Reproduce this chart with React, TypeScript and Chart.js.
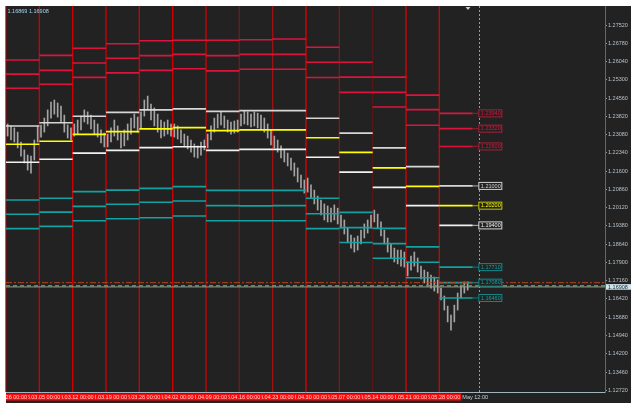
import { useEffect, useRef } from 'react';
import { Chart, registerables } from 'chart.js';
Chart.register(...registerables);

// ---- time structure (x in 4H-bar units, 10 per week column) ----
const weekStarts = [0, 10, 20, 30, 40, 50, 60, 70, 80, 90, 100, 110, 120, 130];
const currentWeekEnd = 140;
const nowMarker = 142;
const shiftMarker = 138.6;
const weekLineColors = ['#7a1212', '#d40000', '#d40000', '#d40000', '#d40000', '#d40000', '#d40000',
  '#7a1717', '#a01212', '#e00000', '#7a1b1b', '#5a1616', '#e00000', '#d80000'];
const dateLabels = ['2018.02.26 00:00', '2018.03.05 00:00', '2018.03.12 00:00', '2018.03.19 00:00',
  '2018.03.26 00:00', '2018.04.02 00:00', '2018.04.09 00:00', '2018.04.16 00:00', '2018.04.23 00:00',
  '2018.04.30 00:00', '2018.05.07 00:00', '2018.05.14 00:00', '2018.05.21 00:00', '2018.05.28 00:00'];
const axisTimeTail = 'May 12:00';

// ---- weekly levels ----
const r3 = [1.2610, 1.2629, 1.2658, 1.2676, 1.2688, 1.2690, 1.2690, 1.2692, 1.2695, 1.2662, 1.2601, 1.2541, 1.2468, 1.2394];
const r2 = [1.2553, 1.2568, 1.2598, 1.2617, 1.2628, 1.2633, 1.2628, 1.2633, 1.2633, 1.2601, 1.2541, 1.2479, 1.2409, 1.2332];
const r1 = [1.2496, 1.2512, 1.2540, 1.2558, 1.2568, 1.2575, 1.2566, 1.2573, 1.2573, 1.2539, 1.2479, 1.2420, 1.2346, 1.2260];
const upperW = [1.2343, 1.2356, 1.2382, 1.2398, 1.2408, 1.2412, 1.2402, 1.2405, 1.2405, 1.2374, 1.2314, 1.2254, 1.2178, 1.2100];
const pivot = [1.2269, 1.2281, 1.2309, 1.2320, 1.2331, 1.2336, 1.2324, 1.2327, 1.2327, 1.2295, 1.2236, 1.2173, 1.2098, 1.2020];
const lowerW = [1.2196, 1.2208, 1.2233, 1.2244, 1.2255, 1.2259, 1.2244, 1.2248, 1.2248, 1.2216, 1.2156, 1.2094, 1.2020, 1.1940];
const s1 = [1.2043, 1.2050, 1.2077, 1.2083, 1.2090, 1.2097, 1.2082, 1.2082, 1.2082, 1.2050, 1.1993, 1.1928, 1.1853, 1.1771];
const s2 = [1.1985, 1.1994, 1.2017, 1.2026, 1.2034, 1.2039, 1.2020, 1.2019, 1.2020, 1.1987, 1.1931, 1.1866, 1.1791, 1.1708];
const s3 = [1.1927, 1.1936, 1.1959, 1.1967, 1.1971, 1.1978, 1.1959, 1.1959, 1.1959, 1.1927, 1.1871, 1.1807, 1.1728, 1.1646];

// ---- price bars (high / low) ----
const priceHigh = [
  1.2351, 1.2343, 1.2335, 1.2318, 1.2278, 1.2246, 1.2225, 1.2221, 1.2286, 1.2343,
  1.2347, 1.2375, 1.2408, 1.2440, 1.2448, 1.2436, 1.2424, 1.2387, 1.2347, 1.2335,
  1.2351, 1.2367, 1.2383, 1.2408, 1.2400, 1.2387, 1.2367, 1.2351, 1.2327, 1.2314,
  1.2310, 1.2335, 1.2367, 1.2343, 1.2314, 1.2327, 1.2351, 1.2375, 1.2391, 1.2379,
  1.2400, 1.2448, 1.2464, 1.2432, 1.2416, 1.2391, 1.2367, 1.2359, 1.2367, 1.2351,
  1.2351, 1.2343, 1.2327, 1.2310, 1.2302, 1.2286, 1.2270, 1.2262, 1.2278, 1.2286,
  1.2310, 1.2343, 1.2375, 1.2391, 1.2400, 1.2383, 1.2367, 1.2359, 1.2363, 1.2367,
  1.2391, 1.2404, 1.2400, 1.2391, 1.2400, 1.2395, 1.2387, 1.2375, 1.2351, 1.2327,
  1.2302, 1.2286, 1.2262, 1.2246, 1.2233, 1.2213, 1.2193, 1.2173, 1.2144, 1.2124,
  1.2132, 1.2104, 1.2083, 1.2059, 1.2043, 1.2027, 1.2019, 1.2010, 1.2023, 1.2010,
  1.1982, 1.1962, 1.1929, 1.1901, 1.1889, 1.1897, 1.1921, 1.1946, 1.1962, 1.1982,
  1.2002, 1.1986, 1.1954, 1.1921, 1.1889, 1.1865, 1.1848, 1.1840, 1.1840, 1.1832,
  1.1792, 1.1816, 1.1832, 1.1808, 1.1775, 1.1759, 1.1751, 1.1739, 1.1731, 1.1719,
  1.1686, 1.1654, 1.1613, 1.1577, 1.1617, 1.1666, 1.1698, 1.1711, 1.1711,
];
const priceLow = [
  1.2302, 1.2286, 1.2278, 1.2254, 1.2221, 1.2193, 1.2164, 1.2152, 1.2205, 1.2278,
  1.2298, 1.2318, 1.2343, 1.2375, 1.2391, 1.2379, 1.2359, 1.2318, 1.2294, 1.2286,
  1.2302, 1.2310, 1.2327, 1.2359, 1.2351, 1.2331, 1.2310, 1.2298, 1.2274, 1.2258,
  1.2258, 1.2278, 1.2302, 1.2286, 1.2254, 1.2262, 1.2286, 1.2310, 1.2335, 1.2318,
  1.2335, 1.2383, 1.2408, 1.2367, 1.2343, 1.2318, 1.2294, 1.2302, 1.2310, 1.2302,
  1.2298, 1.2290, 1.2274, 1.2258, 1.2250, 1.2237, 1.2217, 1.2213, 1.2225, 1.2246,
  1.2254, 1.2286, 1.2318, 1.2335, 1.2347, 1.2335, 1.2318, 1.2310, 1.2314, 1.2318,
  1.2343, 1.2351, 1.2347, 1.2339, 1.2343, 1.2335, 1.2331, 1.2318, 1.2294, 1.2266,
  1.2254, 1.2237, 1.2213, 1.2197, 1.2181, 1.2164, 1.2140, 1.2116, 1.2092, 1.2071,
  1.2075, 1.2051, 1.2027, 1.2002, 1.1982, 1.1962, 1.1954, 1.1954, 1.1962, 1.1946,
  1.1929, 1.1905, 1.1873, 1.1848, 1.1832, 1.1840, 1.1865, 1.1889, 1.1909, 1.1929,
  1.1954, 1.1929, 1.1897, 1.1865, 1.1832, 1.1808, 1.1792, 1.1784, 1.1775, 1.1771,
  1.1735, 1.1759, 1.1775, 1.1751, 1.1723, 1.1707, 1.1694, 1.1686, 1.1674, 1.1666,
  1.1638, 1.1597, 1.1549, 1.1516, 1.1549, 1.1597, 1.1646, 1.1666, 1.1678,
];

// ---- price axis ----
const yTicks = [1.1272, 1.1346, 1.1420, 1.1494, 1.1568, 1.1642, 1.1716, 1.1790, 1.1864, 1.1938, 1.2012,
  1.2086, 1.2160, 1.2234, 1.2308, 1.2382, 1.2456, 1.2530, 1.2604, 1.2678, 1.2752];
const yMin = 1.1265;
const yMax = 1.2829;
const bidPrice = 1.16869;
const lastPrice = 1.16908;
const greenDashLevel = 1.1696;
const redDashLevel = 1.1708;

const FONT = '"Liberation Sans", "DejaVu Sans", sans-serif';
const RED = '#dc143c';
const WHITE = '#f2f2f2';
const YELLOW = '#ffff00';
const TEAL = '#13a1a1';

const levelDefs = [
  { vals: r3, color: RED, box: '#a8203a' },
  { vals: r2, color: RED, box: '#a8203a' },
  { vals: r1, color: RED, box: '#a8203a' },
  { vals: upperW, color: '#d6d6d6', box: '#d0d0d0' },
  { vals: pivot, color: YELLOW, box: '#c8c800' },
  { vals: lowerW, color: WHITE, box: '#d8d8d8' },
  { vals: s1, color: TEAL, box: '#138888' },
  { vals: s2, color: TEAL, box: '#138888' },
  { vals: s3, color: TEAL, box: '#138888' },
];

function segments(vals: number[]) {
  const pts: { x: number; y: number | null }[] = [];
  vals.forEach((v, k) => {
    const s = weekStarts[k];
    const e = k < weekStarts.length - 1 ? weekStarts[k + 1] : currentWeekEnd;
    pts.push({ x: s, y: v }, { x: e, y: v }, { x: e, y: null });
  });
  return pts;
}

const decorPlugin = {
  id: 'mt4decor',
  beforeDraw(chart: any) {
    const { ctx } = chart;
    ctx.save();
    ctx.fillStyle = '#ffffff';
    ctx.fillRect(0, 0, chart.width, chart.height);
    ctx.fillStyle = '#222222';
    ctx.fillRect(6, 6, 625, 397);
    ctx.restore();
  },
  beforeDatasetsDraw(chart: any) {
    const { ctx, chartArea: a } = chart;
    const xs = chart.scales.x;
    ctx.save();
    ctx.lineWidth = 1.3;
    weekStarts.forEach((w, k) => {
      const x = xs.getPixelForValue(w);
      ctx.strokeStyle = weekLineColors[k];
      ctx.beginPath();
      ctx.moveTo(x, a.top);
      ctx.lineTo(x, a.bottom);
      ctx.stroke();
    });
    ctx.restore();
  },
  afterDatasetsDraw(chart: any) {
    const { ctx, chartArea: a } = chart;
    const xs = chart.scales.x;
    const ys = chart.scales.y;
    ctx.save();
    const hl = (v: number, color: string, dash: number[], w: number) => {
      const y = ys.getPixelForValue(v);
      ctx.strokeStyle = color;
      ctx.lineWidth = w;
      ctx.setLineDash(dash);
      ctx.beginPath();
      ctx.moveTo(a.left, y);
      ctx.lineTo(a.right, y);
      ctx.stroke();
    };
    hl(redDashLevel, '#b5431c', [6, 2, 2, 2], 1);
    hl(greenDashLevel, '#22b522', [4, 3], 1.5);
    hl(lastPrice, '#9a9a9a', [], 1);
    const xn = xs.getPixelForValue(nowMarker);
    ctx.strokeStyle = '#9a9a9a';
    ctx.lineWidth = 1;
    ctx.setLineDash([2, 2]);
    ctx.beginPath();
    ctx.moveTo(Math.round(xn) + 0.5, a.top);
    ctx.lineTo(Math.round(xn) + 0.5, a.bottom);
    ctx.stroke();
    ctx.setLineDash([]);
    const xe = xs.getPixelForValue(currentWeekEnd);
    ctx.font = `5.5px ${FONT}`;
    ctx.textBaseline = 'middle';
    ctx.textAlign = 'left';
    levelDefs.forEach((d) => {
      const v = d.vals[d.vals.length - 1];
      const y = ys.getPixelForValue(v);
      ctx.strokeStyle = d.box;
      ctx.globalAlpha = 0.7;
      ctx.lineWidth = 1.2;
      ctx.beginPath();
      ctx.moveTo(xe, y);
      ctx.lineTo(xn, y);
      ctx.stroke();
      ctx.globalAlpha = 1;
      ctx.fillStyle = '#222222';
      ctx.fillRect(xn - 0.5, y - 3.5, 23, 7);
      ctx.lineWidth = 1;
      ctx.strokeRect(xn - 0.5, y - 3.5, 23, 7);
      ctx.fillStyle = d.color;
      ctx.fillText(v.toFixed(5), xn + 1.5, y + 0.3);
    });
    const xt = xs.getPixelForValue(shiftMarker);
    ctx.fillStyle = '#d0d0d0';
    ctx.beginPath();
    ctx.moveTo(xt - 2.5, a.top + 1);
    ctx.lineTo(xt + 2.5, a.top + 1);
    ctx.lineTo(xt, a.top + 4);
    ctx.closePath();
    ctx.fill();
    ctx.restore();
  },
  afterDraw(chart: any) {
    const { ctx, chartArea: a } = chart;
    const xs = chart.scales.x;
    const ys = chart.scales.y;
    ctx.save();
    ctx.strokeStyle = '#9fb4bf';
    ctx.lineWidth = 1;
    ctx.beginPath();
    ctx.moveTo(a.left, a.bottom + 0.5);
    ctx.lineTo(a.right, a.bottom + 0.5);
    ctx.stroke();
    const top = a.bottom + 1.5;
    const h = 7;
    const lastX = xs.getPixelForValue(weekStarts[weekStarts.length - 1]);
    ctx.fillStyle = '#ff0a0a';
    ctx.fillRect(a.left, top, lastX + 22 - a.left, h);
    ctx.font = `5.5px ${FONT}`;
    ctx.textBaseline = 'middle';
    weekStarts.forEach((w, k) => {
      const L = xs.getPixelForValue(w);
      const x0 = Math.max(L - 11, a.left);
      ctx.save();
      ctx.beginPath();
      ctx.rect(x0, top, L + 22 - x0, h);
      ctx.clip();
      ctx.fillStyle = '#ffd6d6';
      ctx.textAlign = 'right';
      ctx.fillText(dateLabels[k], L + 21, top + h / 2 + 0.3);
      ctx.restore();
    });
    ctx.fillStyle = '#c8d2da';
    ctx.textAlign = 'left';
    ctx.fillText(axisTimeTail, lastX + 23, top + h / 2 + 0.3);
    ctx.fillStyle = '#a6d4ec';
    ctx.fillText(`${bidPrice.toFixed(5)} ${lastPrice.toFixed(5)}`, 7.5, 11);
    const yp = ys.getPixelForValue(lastPrice);
    ctx.fillStyle = '#cfe5ee';
    ctx.fillRect(a.right + 1, yp - 2.8, 25, 5.6);
    ctx.fillStyle = '#1c2a32';
    ctx.fillText(lastPrice.toFixed(5), a.right + 3, yp + 0.2);
    ctx.restore();
  },
};

export default function App() {
  const ref = useRef<HTMLCanvasElement | null>(null);
  useEffect(() => {
    if (!ref.current) return;
    const datasets: any[] = [
      {
        type: 'bar',
        data: priceHigh.map((hv, i) => ({ x: i + 0.5, y: [priceLow[i], hv] })),
        backgroundColor: '#a4a4a4',
        borderWidth: 0,
        barThickness: 1,
        grouped: false,
        order: 2,
      },
      ...levelDefs.map((d) => ({
        type: 'line',
        data: segments(d.vals),
        borderColor: d.color,
        borderWidth: 1.6,
        pointRadius: 0,
        spanGaps: false,
        fill: false,
        tension: 0,
        order: 1,
      })),
    ];
    const chart = new Chart(ref.current, {
      type: 'bar',
      data: { datasets },
      options: {
        animation: false,
        responsive: false,
        devicePixelRatio: 1,
        events: [],
        layout: { padding: { left: 6, top: 6, right: 5, bottom: 19 } },
        plugins: { legend: { display: false }, tooltip: { enabled: false } },
        scales: {
          x: { type: 'linear', min: 0, max: 179.7, display: false, offset: false },
          y: {
            type: 'linear',
            position: 'right',
            min: yMin,
            max: yMax,
            beginAtZero: false,
            afterFit: (s: any) => { s.width = 26; },
            afterBuildTicks: (s: any) => { s.ticks = yTicks.map((v) => ({ value: v })); },
            ticks: {
              autoSkip: false,
              callback: (v: any) => Number(v).toFixed(5),
              color: '#b6c0c8',
              font: { family: FONT, size: 5.5 },
              padding: 1,
            },
            grid: { drawOnChartArea: false, drawTicks: true, tickLength: 2, color: '#8a9aa4' },
            border: { display: true, color: '#5c6a74', width: 1 },
          },
        },
      } as any,
      plugins: [decorPlugin],
    });
    return () => chart.destroy();
  }, []);
  return (
    <div style={{ position: 'fixed', left: 0, top: 0, width: 636, height: 411 }}>
      <canvas ref={ref} width={636} height={411} style={{ display: 'block', width: 636, height: 411 }} />
    </div>
  );
}
